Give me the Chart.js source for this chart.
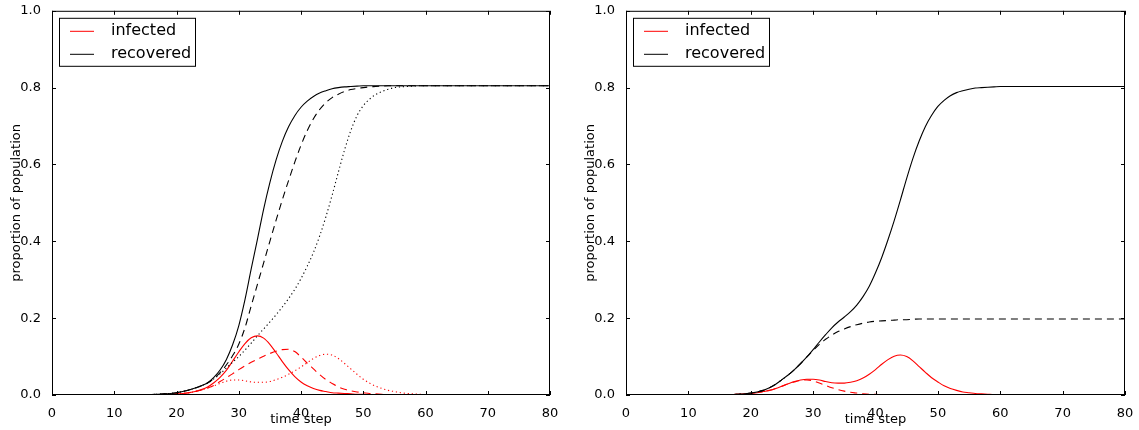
<!DOCTYPE html>
<html>
<head>
<meta charset="utf-8">
<script src="https://cdn.jsdelivr.net/npm/chart.js@4.4.0/dist/chart.umd.min.js"></script>
<style>
  html, body { margin: 0; padding: 0; background: #fff; }
  #wrap { position: relative; width: 1139px; height: 430px; }
  #left { position: absolute; left: 0; top: 0; }
  #right { position: absolute; left: 574px; top: 0; }
</style>
</head>
<body>
<div id="wrap">
  <canvas id="left" width="574" height="430"></canvas>
  <canvas id="right" width="565" height="430"></canvas>
</div>
<script>
const FONT = "'DejaVu Sans', sans-serif";

const timeSteps = [0,1,2,3,4,5,6,7,8,9,10,11,12,13,14,15,16,17,18,19,20,21,22,23,24,25,26,27,28,29,30,
  31,32,33,34,35,36,37,38,39,40,41,42,43,44,45,46,47,48,49,50,51,52,53,54,55,56,57,58,59,60,
  61,62,63,64,65,66,67,68,69,70,71,72,73,74,75,76,77,78,79,80];

const xTicks = [0, 10, 20, 30, 40, 50, 60, 70, 80];
const yTicks = [0, 0.2, 0.4, 0.6, 0.8, 1.0];

const legendLabels = ['infected', 'recovered'];
const legendColors = ['#ff0000', '#000000'];

// left panel: three scenarios (solid, dashed, dotted)
const leftRecSolid = [0,0,0,0,0,0,0,0,0,0,0,0,0,0,0,0,
  0.001,0.002,0.003,0.004,0.006,0.009,0.013,0.018,0.024,0.032,0.046,0.065,0.092,0.13,0.18,
  0.248,0.328,0.405,0.484,0.553,0.612,0.66,0.698,0.727,0.749,0.765,0.777,0.786,0.792,0.797,0.8,0.802,0.803,0.804,
  0.805,0.805,0.805,0.805,0.805,0.805,0.805,0.805,0.805,0.805,0.805,0.805,0.805,0.805,0.805,0.805,
  0.805,0.805,0.805,0.805,0.805,0.805,0.805,0.805,0.805,0.805,0.805,0.805,0.805,0.805,0.805];
const leftRecDashed = [0,0,0,0,0,0,0,0,0,0,0,0,0,0,0,0,
  0.001,0.002,0.003,0.004,0.006,0.009,0.013,0.018,0.024,0.031,0.043,0.058,0.078,0.102,0.132,
  0.175,0.232,0.288,0.344,0.40,0.455,0.508,0.558,0.606,0.65,0.688,0.719,0.743,0.761,0.774,0.783,0.79,0.795,0.798,
  0.8,0.802,0.803,0.804,
  0.805,0.805,0.805,0.805,0.805,0.805,0.805,0.805,0.805,0.805,0.805,0.805,0.805,0.805,
  0.805,0.805,0.805,0.805,0.805,0.805,0.805,0.805,0.805,0.805,0.805,0.805,0.805];
const leftRecDotted = [0,0,0,0,0,0,0,0,0,0,0,0,0,0,0,0,
  0.001,0.002,0.003,0.004,0.006,0.009,0.013,0.018,0.024,0.031,0.042,0.055,0.07,0.085,0.1,
  0.117,0.135,0.154,0.172,0.19,0.209,0.229,0.251,0.275,0.303,0.335,0.371,0.414,0.464,0.52,0.58,0.638,0.688,0.727,
  0.753,0.77,0.782,0.79,0.796,0.8,0.802,0.803,0.804,
  0.805,0.805,0.805,0.805,0.805,0.805,0.805,0.805,0.805,0.805,0.805,
  0.805,0.805,0.805,0.805,0.805,0.805,0.805,0.805,0.805,0.805,0.805];
const leftInfSolid = [0,0,0,0,0,0,0,0,0,0,0,0,0,0,0,0,
  0.001,0.001,0.002,0.002,0.003,0.004,0.006,0.009,0.014,0.021,0.032,0.046,0.064,0.088,0.112,
  0.134,0.149,0.154,0.148,0.132,0.11,0.087,0.066,0.048,0.034,0.024,0.017,0.012,0.009,0.006,0.005,0.004,0.003,0.002,
  0.002,0.001,0.001,0.001,
  0,0,0,0,0,0,0,0,0,0,0,0,0,0,0,0,0,0,0,0,0,0,0,0,0,0,0];
const leftInfDashed = [0,0,0,0,0,0,0,0,0,0,0,0,0,0,0,0,
  0.001,0.001,0.002,0.002,0.003,0.004,0.006,0.009,0.013,0.018,0.025,0.035,0.045,0.055,0.066,
  0.076,0.085,0.093,0.101,0.108,0.114,0.118,0.119,0.113,0.099,0.083,0.068,0.053,0.04,0.03,0.021,0.015,0.011,0.008,
  0.006,0.004,0.003,0.002,0.001,0.001,
  0,0,0,0,0,0,0,0,0,0,0,0,0,0,0,0,0,0,0,0,0,0,0,0,0];
const leftInfDotted = [0,0,0,0,0,0,0,0,0,0,0,0,0,0,0,0,
  0.001,0.001,0.002,0.002,0.003,0.004,0.006,0.009,0.013,0.018,0.024,0.03,0.036,0.039,0.039,
  0.037,0.034,0.033,0.033,0.035,0.04,0.046,0.054,0.063,0.073,0.084,0.095,0.103,0.106,0.104,0.095,0.082,0.068,0.054,
  0.041,0.031,0.023,0.017,0.012,0.009,0.006,0.004,0.003,0.002,0.001,0.001,
  0,0,0,0,0,0,0,0,0,0,0,0,0,0,0,0,0,0,0];

// right panel: two scenarios (solid, dashed)
const rightRecSolid = [0,0,0,0,0,0,0,0,0,0,0,0,0,0,0,0,
  0.001,0.001,0.002,0.003,0.005,0.008,0.012,0.019,0.028,0.04,0.052,0.066,0.082,0.099,0.118,
  0.138,0.157,0.175,0.19,0.203,0.217,0.234,0.256,0.283,0.318,0.358,0.404,0.454,0.508,0.564,0.616,0.661,0.699,0.728,
  0.751,0.767,0.779,0.787,0.792,0.796,0.799,0.8,0.801,0.802,
  0.803,0.803,0.803,0.803,0.803,0.803,0.803,0.803,0.803,0.803,0.803,
  0.803,0.803,0.803,0.803,0.803,0.803,0.803,0.803,0.803,0.803];
const rightRecDashed = [0,0,0,0,0,0,0,0,0,0,0,0,0,0,0,0,
  0.001,0.001,0.002,0.003,0.005,0.008,0.012,0.019,0.028,0.04,0.052,0.066,0.082,0.099,0.116,
  0.132,0.145,0.156,0.165,0.172,0.178,0.183,0.187,0.19,0.192,0.193,0.194,0.195,0.196,0.196,0.197,
  0.198,0.198,0.198,0.198,0.198,0.198,0.198,0.198,0.198,0.198,0.198,0.198,0.198,0.198,0.198,0.198,0.198,
  0.198,0.198,0.198,0.198,0.198,0.198,0.198,0.198,0.198,0.198,0.198,0.198,0.198,0.198,0.198,0.198,0.198];
const rightInfSolid = [0,0,0,0,0,0,0,0,0,0,0,0,0,0,0,0,
  0.001,0.001,0.002,0.003,0.004,0.006,0.009,0.012,0.017,0.023,0.029,0.035,0.039,0.041,0.041,
  0.039,0.035,0.032,0.031,0.031,0.033,0.037,0.044,0.054,0.066,0.08,0.092,0.101,0.104,0.1,0.089,0.074,0.059,0.045,
  0.034,0.024,0.017,0.012,0.008,0.006,0.004,0.003,0.002,0.001,0.001,
  0,0,0,0,0,0,0,0,0,0,0,0,0,0,0,0,0,0,0,0];
const rightInfDashed = [0,0,0,0,0,0,0,0,0,0,0,0,0,0,0,0,
  0.001,0.001,0.002,0.003,0.004,0.006,0.009,0.012,0.017,0.023,0.029,0.034,0.038,0.039,0.037,
  0.031,0.025,0.019,0.014,0.01,0.007,0.005,0.003,0.002,0.002,0.001,0.001,
  0,0,0,0,0,0,0,0,0,0,0,0,0,0,0,0,0,0,0,0,0,0,0,0,0,0,0,0,0,0,0,0,0,0,0,0,0,0];

const SOLID = [];
const DASHED = [7, 5];
const DOTTED = [1.2, 2.8];

function series(values, color, dash) {
  return {
    data: timeSteps.map((t, i) => ({ x: t, y: values[i] })),
    borderColor: color,
    borderWidth: 1.1,
    borderDash: dash,
    pointRadius: 0,
    cubicInterpolationMode: 'monotone',
    fill: false
  };
}

// matplotlib-like frame, inward ticks and boxed legend
const frameAndLegend = {
  id: 'frameAndLegend',
  afterDatasetsDraw(chart) {
    const { ctx, chartArea: a, scales } = chart;
    ctx.save();
    ctx.strokeStyle = '#000';
    ctx.lineWidth = 1;
    ctx.strokeRect(a.left + 0.5, a.top + 0.5, a.right - a.left - 1, a.bottom - a.top - 1);
    const len = 4;
    ctx.beginPath();
    xTicks.forEach(v => {
      const px = Math.round(scales.x.getPixelForValue(v)) + 0.5;
      ctx.moveTo(px, a.bottom); ctx.lineTo(px, a.bottom - len);
      ctx.moveTo(px, a.top); ctx.lineTo(px, a.top + len);
    });
    yTicks.forEach(v => {
      const py = Math.round(scales.y.getPixelForValue(v)) + 0.5;
      ctx.moveTo(a.left, py); ctx.lineTo(a.left + len, py);
      ctx.moveTo(a.right, py); ctx.lineTo(a.right - len, py);
    });
    ctx.stroke();

    // legend box
    const bx = a.left + 7, by = a.top + 7;
    ctx.fillStyle = '#fff';
    ctx.fillRect(bx, by, 136, 48);
    ctx.strokeRect(bx + 0.5, by + 0.5, 136, 48);
    ctx.font = '16px ' + FONT;
    ctx.textBaseline = 'middle';
    legendLabels.forEach((label, i) => {
      const y = by + 13 + i * 23;
      ctx.strokeStyle = legendColors[i];
      ctx.beginPath();
      ctx.moveTo(bx + 11, y + 0.5);
      ctx.lineTo(bx + 35, y + 0.5);
      ctx.stroke();
      ctx.fillStyle = '#000';
      ctx.fillText(label, bx + 52, y);
    });
    ctx.restore();
  }
};

function makeOptions(padRight) {
  const tickFont = { family: FONT, size: 13 };
  return {
    responsive: false,
    animation: false,
    layout: { padding: { top: 9, right: padRight, left: 0, bottom: 0 } },
    plugins: { legend: { display: false }, tooltip: { enabled: false } },
    scales: {
      x: {
        type: 'linear', min: 0, max: 80,
        grid: { display: false }, border: { display: false },
        afterBuildTicks: s => { s.ticks = xTicks.map(v => ({ value: v })); },
        ticks: { color: '#000', font: tickFont, padding: 3, maxRotation: 0, autoSkip: false,
                 callback: v => String(v) },
        title: { display: true, text: 'time step', color: '#000', font: tickFont,
                 padding: { top: 0, bottom: 3 } },
        afterFit: s => { s.height = 35; }
      },
      y: {
        type: 'linear', min: 0, max: 1,
        grid: { display: false }, border: { display: false },
        afterBuildTicks: s => { s.ticks = yTicks.map(v => ({ value: v })); },
        ticks: { color: '#000', font: tickFont, padding: 3, autoSkip: false,
                 callback: v => Number(v).toFixed(1) },
        title: { display: true, text: 'proportion of population', color: '#000', font: tickFont,
                 padding: { top: 9, bottom: 0 } },
        afterFit: s => { s.width = 52; }
      }
    }
  };
}

new Chart(document.getElementById('left'), {
  type: 'line',
  data: {
    datasets: [
      series(leftRecSolid, '#000000', SOLID),
      series(leftRecDashed, '#000000', DASHED),
      series(leftRecDotted, '#000000', DOTTED),
      series(leftInfSolid, '#ff0000', SOLID),
      series(leftInfDashed, '#ff0000', DASHED),
      series(leftInfDotted, '#ff0000', DOTTED)
    ]
  },
  options: makeOptions(24),
  plugins: [frameAndLegend]
});

new Chart(document.getElementById('right'), {
  type: 'line',
  data: {
    datasets: [
      series(rightRecSolid, '#000000', SOLID),
      series(rightRecDashed, '#000000', DASHED),
      series(rightInfSolid, '#ff0000', SOLID),
      series(rightInfDashed, '#ff0000', DASHED)
    ]
  },
  options: makeOptions(14),
  plugins: [frameAndLegend]
});
</script>
</body>
</html>
